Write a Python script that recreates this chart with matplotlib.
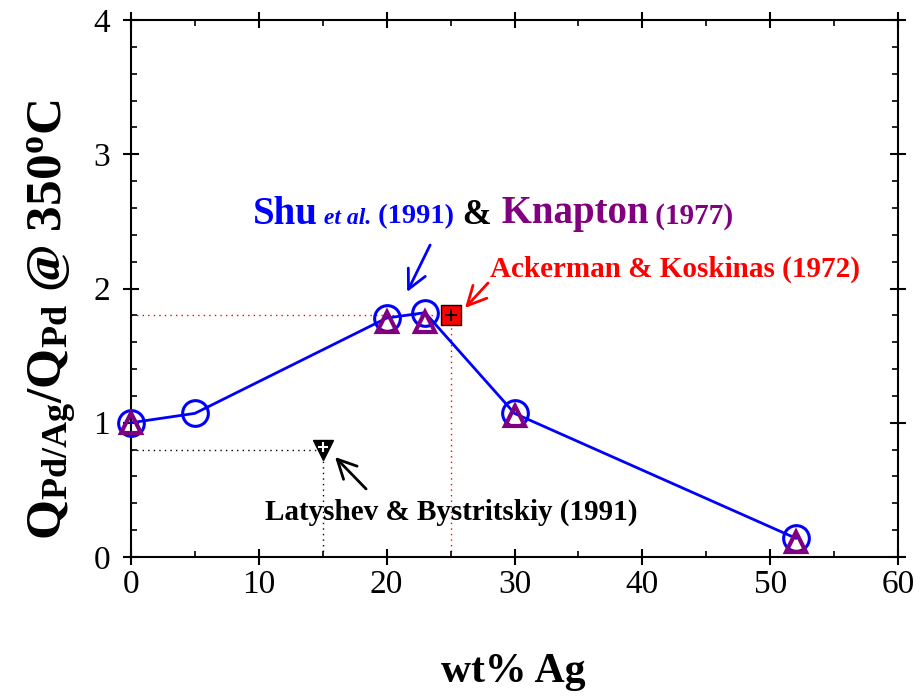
import matplotlib
matplotlib.use("Agg")
import matplotlib.pyplot as plt
from matplotlib.ticker import MultipleLocator
from matplotlib.offsetbox import TextArea, HPacker, AnnotationBbox

plt.rcParams['font.family'] = ['Liberation Serif', 'DejaVu Serif']
plt.rcParams['mathtext.fontset'] = 'custom'
plt.rcParams['mathtext.rm'] = 'Liberation Serif:bold'
plt.rcParams['mathtext.bf'] = 'Liberation Serif:bold'
plt.rcParams['mathtext.it'] = 'Liberation Serif:italic:bold'

# Shu et al. (1991)
shu_ag = [0, 5, 20, 23, 30, 52]
shu_q = [1.00, 1.07, 1.78, 1.82, 1.07, 0.14]
# Knapton (1977)
knap_ag = [0, 20, 23, 30, 52]
knap_q = [1.00, 1.75, 1.75, 1.05, 0.11]
# Ackerman & Koskinas (1972)
ack_ag = [25]
ack_q = [1.80]
# Latyshev & Bystritskiy (1991)
lat_ag = [15]
lat_q = [0.80]

BLUE = '#0000ff'
PURPLE = '#800080'
RED = '#ff0000'

fig = plt.figure(figsize=(9.21, 6.98), dpi=100)
ax = fig.add_axes([131 / 921, 1 - 557 / 698, (898 - 131) / 921, (557 - 20) / 698])
ax.set_xlim(0, 60)
ax.set_ylim(0, 4)

# reference guide lines
ax.plot([0, ack_ag[0]], [ack_q[0], ack_q[0]], color=RED, ls=(0, (1, 3)), lw=1, zorder=1)
ax.plot([ack_ag[0], ack_ag[0]], [0, ack_q[0]], color=RED, ls=(0, (1, 3)), lw=1, zorder=1)
ax.plot([0, lat_ag[0]], [lat_q[0], lat_q[0]], color='black', ls=(0, (1, 3)), lw=1, zorder=1)
ax.plot([lat_ag[0], lat_ag[0]], [0, lat_q[0]], color='black', ls=(0, (1, 3)), lw=1, zorder=1)

ax.plot(shu_ag, shu_q, color=BLUE, lw=2, marker='o', ms=18.5, mfc='none',
        mec=BLUE, mew=2.2, zorder=3, clip_on=False)
ax.plot(knap_ag, knap_q, ls='none', marker='^', ms=15, mfc='none',
        mec=PURPLE, mew=3, zorder=4, clip_on=False)
ax.plot(ack_ag, ack_q, ls='none', marker='s', ms=14.5, mfc=RED, mec='black',
        mew=1, zorder=4)
ax.plot(ack_ag, ack_q, ls='none', marker='+', ms=9, mec='black', mew=1.3, zorder=5)
ax.plot(lat_ag, lat_q, ls='none', marker='v', ms=15, mfc='black', mec='black',
        zorder=4)
ax.plot(lat_ag, [lat_q[0] + 0.02], ls='none', marker='+', ms=7, mec='white',
        mew=1.5, zorder=5)

# annotations
seg = [("Shu", BLUE, 28, 'normal'), (" et al.", BLUE, 17, 'italic'),
       (" (1991)", BLUE, 20.5, 'normal'), (" &", 'black', 25, 'normal'),
       (" Knapton", PURPLE, 28, 'normal'), (" (1977)", PURPLE, 21, 'normal')]
areas = [TextArea(s, textprops=dict(color=c, fontsize=fs, fontweight='bold',
                                    fontstyle=st, family='Liberation Serif'))
         for s, c, fs, st in seg]
pack = HPacker(children=areas, align='baseline', pad=0, sep=0)
ab = AnnotationBbox(pack, (253, 698 - 214), xycoords='figure pixels',
                    box_alignment=(0, 0.5), frameon=False, pad=0)
fig.add_artist(ab)

ax.text(28.09, 2.086, "Ackerman & Koskinas (1972)", color=RED, fontsize=21,
        fontweight='bold', ha='left', va='baseline')
ax.text(10.49, 0.276, "Latyshev & Bystritskiy (1991)", color='black', fontsize=21,
        fontweight='bold', ha='left', va='baseline')

arrow_kw = dict(arrowstyle='->', lw=2, mutation_scale=34, shrinkA=0, shrinkB=0)
ax.annotate('', xy=(21.60, 1.974), xytext=(23.40, 2.324),
            arrowprops=dict(color=BLUE, **arrow_kw))
ax.annotate('', xy=(26.13, 1.855), xytext=(27.93, 2.041),
            arrowprops=dict(color=RED, **arrow_kw))
ax.annotate('', xy=(15.96, 0.745), xytext=(18.39, 0.507),
            arrowprops=dict(color='black', **arrow_kw))

# axes styling
ax.xaxis.set_major_locator(MultipleLocator(10))
ax.xaxis.set_minor_locator(MultipleLocator(5))
ax.yaxis.set_major_locator(MultipleLocator(1))
ax.yaxis.set_minor_locator(MultipleLocator(0.2))
ax.tick_params(which='major', direction='inout', length=12, width=1.5,
               top=True, right=True, labelsize=24)
ax.tick_params(axis='x', which='major', pad=3)
ax.tick_params(axis='y', which='major', pad=9)
ax.tick_params(which='minor', direction='in', length=4, width=1.2,
               top=True, right=True)
for sp in ax.spines.values():
    sp.set_linewidth(1.5)

fig.text(513 / 921, 1 - 672 / 698, "wt% Ag", fontsize=30, fontweight='bold',
         ha='center', va='center')
fig.text(53 / 921, 1 - 320 / 698,
         r'$\mathbf{Q_{Pd/Ag}/Q_{Pd}}$ @ 350$^{\mathbf{o}}$C',
         fontsize=37, fontweight='bold', rotation=90, ha='center', va='center')

fig.savefig("out.png", dpi=100)
